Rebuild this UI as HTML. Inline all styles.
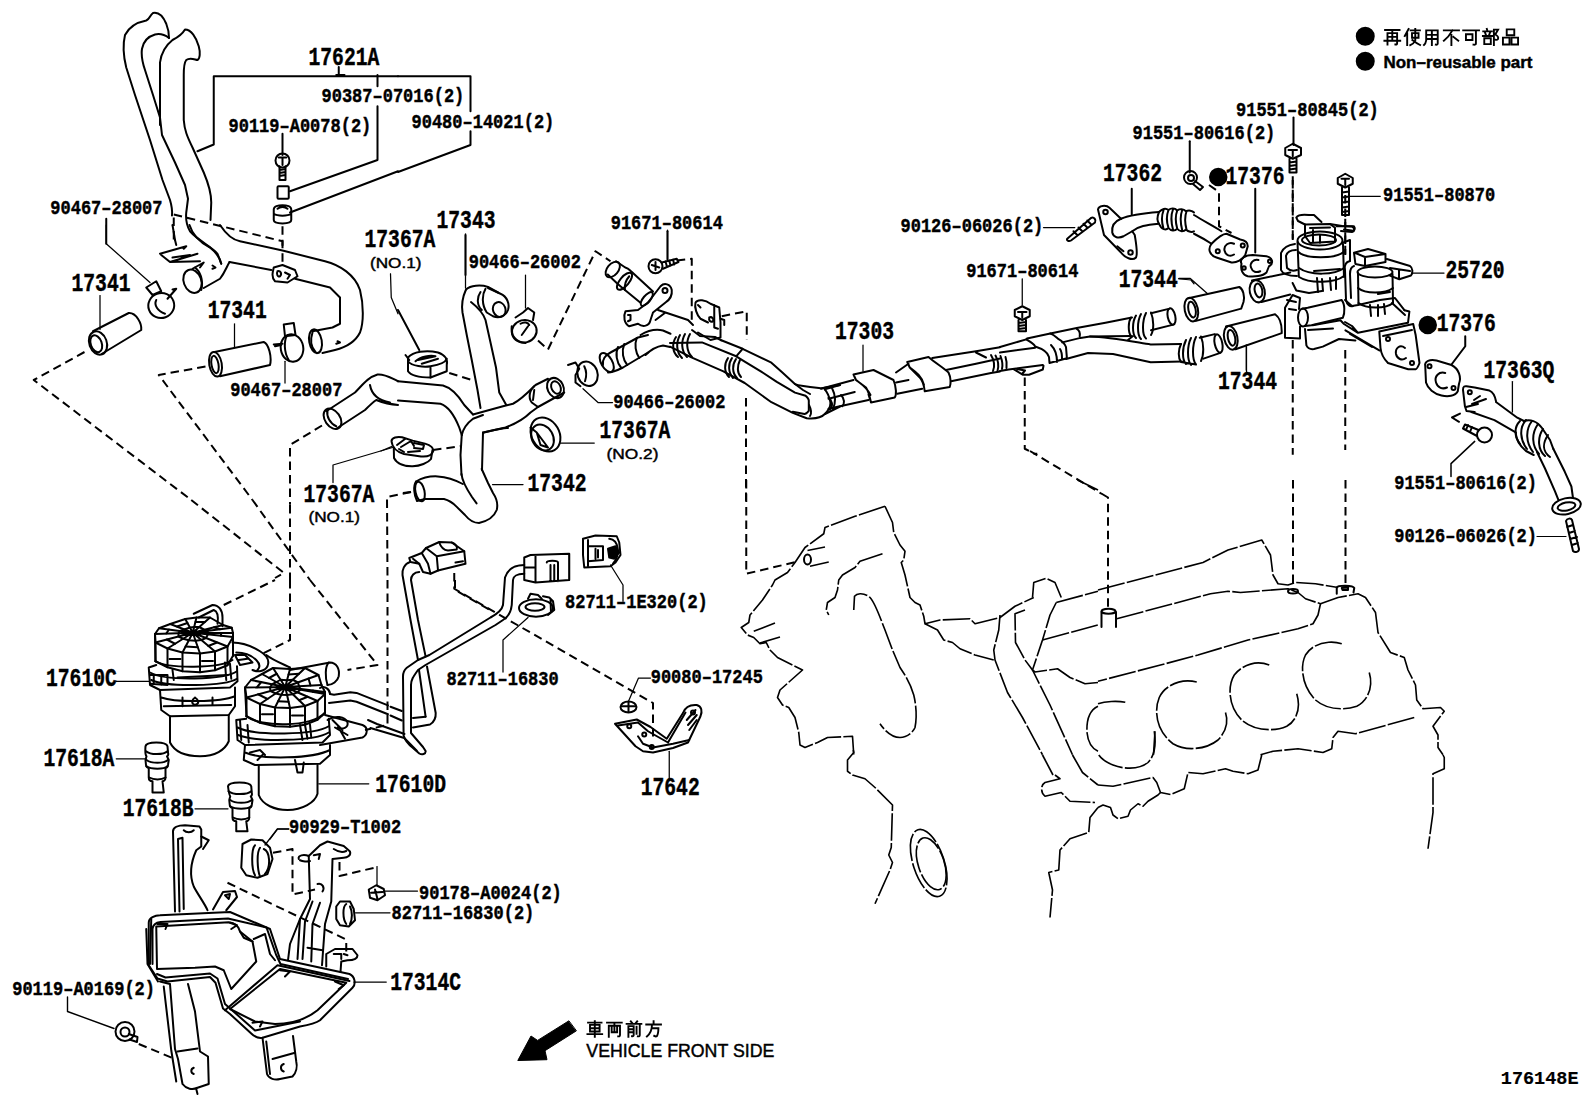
<!DOCTYPE html>
<html><head><meta charset="utf-8"><style>
html,body{margin:0;padding:0;background:#fff;}
svg{display:block;}
.g path,.g circle,.g rect,.g ellipse,.g polyline,.g line{fill:none;stroke:#000;stroke-width:8;stroke-linecap:round;stroke-linejoin:round;}
.g .d{stroke-dasharray:34 20;stroke-linecap:butt;}
.g .t{stroke-width:5;}
.g .e{stroke-width:6.5;stroke-dasharray:110 9;stroke-linecap:butt;}
.g .f{fill:#000;}
.g .g1 path,.g .g1 ellipse,.g .g1 circle,.g .g1 rect{stroke-width:2;}
.g .g1 .d{stroke-dasharray:8.5 5;}
.g .g1 .t{stroke-width:1.25;}
.g .w{fill:#fff;}
text{font-family:"Liberation Mono",monospace;font-weight:bold;fill:#000;stroke:#000;stroke-width:0.45;}
</style></head><body>
<svg width="1592" height="1099" viewBox="0 0 1592 1099">
<rect width="1592" height="1099" fill="#fff"/>
<g class="g">
<g class="g1">
<path d="M721.3,340.3 L742.6,348.8 L771.4,362.7 L782.1,372.3 L794.9,384.1 C800,386 810,387 821.6,388.3 L840,385"/>
<path d="M670,343 L702,342.4 L736.2,356.3 L744.7,361.6 L760.8,371.3 L776.8,381.9 L795,392.6 L805.6,395.8 C808,398 809,400 808.8,401.2 L808.8,410.8 C807,413 806,414 804.5,414 L792.8,411.8"/>
<path d="M670,346.7 L691.4,357.4 L723.4,371.3 L744.7,383 L771.4,402.2 L792.8,412.9 L806.7,418.2 C815,419 822,417 824.8,414 C829,410 831,405 830.2,401.2 C829,396 827,392 824.8,389.4"/>
<path d="M676,337 C672,343 672,352 678,357 M680,335 C676,342 676,352 682,358 M685,334 C681,341 681,351 687,357 M690,334 C686,341 686,351 692,357"/>
<path d="M728,358 C724,364 724,372 729,377 M732,358 C728,364 728,372 733,378 M736,359 C732,365 732,373 737,378 M740,360 C737,366 737,373 741,377"/>
<path d="M736.2,356.3 L742.6,348.8 M795,384 L803,390 L810,394"/>
<path d="M809,405 C811,409 812,413 810,416"/>
<path d="M824.8,389.4 L840,385 M825,414 L840,406.5 M832,388 C835,394 836,402 833,409"/>
<path d="M692,330 L700,336 L715,337 L721.3,340.3"/>
</g>
<g class="g1">
<path d="M391.5,441 C392,437.5 397,436.5 402,437.3 L412.7,440.6 L425,443.6 C430,445 433.5,448 433.3,451 C432,455 427,457 421,456.5 L404,454 C397,452 392,447 391.5,441 Z"/>
<path d="M393.8,448 L394,458 C397,464 405,466.5 412.7,466.3 C420,466 428,463 431,459 L432.5,450"/>
<path d="M397,445 L405,439 M401,447 L411,441 L414,446 M414,443 L424,445 L423,449 L414,448 M408,452 L420,451 M399,449 L404,452"/>
<path d="M381,451 L391.6,446.6" style="stroke-width:1.3"/>
</g>
<g class="g1">
<path class="d" d="M191.25,500 L284,573 L275,578"/>
<path class="d" d="M252.5,500 L310,580"/>
<path class="d" d="M290,505 L290,580"/>
<path class="d" d="M411,492 L387,497 L387.5,580"/>
</g>
<g transform="translate(700,480) scale(0.25)">
<path class="d" d="M185,0 L185,375 L395,325"/>
<ellipse cx="430" cy="318" rx="14" ry="20"/>
<path class="e" d="M430,282 L500,268 M440,345 L515,328"/>
<path class="e" d="M740,105 L620,145 L500,190 L495,215 L420,270 L380,330 L350,370 L300,400 L290,420 L250,480 L200,540 L195,570 L165,590 L190,620 L215,630 L240,655 L265,650 L280,680 L310,710 L410,760 L320,840 L310,870 L330,900 L355,910 L380,950 L395,1010 L400,1060 L420,1070 L470,1050 L510,1030 L610,1025 L615,1099"/>
<path class="e" d="M215,605 L300,572 M240,652 L320,628"/>
<path class="e" d="M730,295 L640,325 L620,350 L570,380 L555,400 L550,440 L540,470 L510,490 L505,520 L515,540"/>
<path class="e" d="M740,105 L770,170 L775,210 L800,260 L820,285 L815,320 L805,330 L820,380 L840,470 L860,490 L880,500 L895,545 L900,575 L960,560 L1080,555 L1100,575 L1200,550 L1260,505 L1335,470"/>
<path class="e" d="M615,520 L618,465 C630,450 660,452 680,470 C700,490 720,550 740,600 L770,680 L800,750 C820,780 840,810 855,860 C865,900 868,950 860,990 C850,1015 820,1030 800,1030 C770,1030 740,1005 720,975"/>
<path class="e" d="M900,575 L950,600 L975,640 L1010,650 L1040,675 L1100,700 L1175,720"/>
<path class="e" d="M1200,540 L1195,600 L1175,680 L1180,720 L1230,850 L1290,950 L1370,1099"/>
<path class="e" d="M1300,520 L1260,535 L1262,650 L1300,720 L1330,760 L1400,900 L1490,1099"/>
<path class="e" d="M1330,470 L1335,410 L1385,393 L1420,410 L1445,470"/>
<path class="e" d="M1425,490 L1592,445"/>
<path class="e" d="M1425,490 L1400,540 L1370,640 L1330,760 L1340,768 L1430,755 L1480,790 L1540,815 L1592,810"/>
<path class="e" d="M1370,640 L1592,580"/>
<path class="e" d="M1592,905 C1560,920 1545,960 1548,1010 C1552,1050 1570,1075 1592,1085"/>
<path class="e" d="M1510,0 L1592,40"/>
</g>
<g transform="translate(1098,480) scale(0.25)">
<path class="d" d="M15,55 L40,70 L40,510"/>
<ellipse cx="42" cy="525" rx="28" ry="10"/>
<path d="M14,528 L14,588 M72,528 L72,588"/>
<path class="d" d="M780,0 L780,425"/>
<ellipse cx="780" cy="445" rx="20" ry="9"/>
<path class="d" d="M990,0 L990,425"/>
<path d="M955,455 L955,430 C960,420 1020,420 1025,432 L1022,450 M975,432 L1000,430 L1000,440 L978,440 Z"/>
<path class="e" d="M0,440 L420,330 L520,280 L655,240 L690,300 L700,380 L720,415 L760,420 L790,410 L870,415 L960,430"/>
<path class="e" d="M75,555 L450,455 L520,445 L570,450 L760,435 L800,450 L830,475 L890,495 L880,540 L860,575 L800,595 L600,640 L400,700 L250,740 L0,805"/>
<path class="e" d="M890,495 L960,470 L1040,455 L1070,470 L1110,530 L1120,610 L1170,690 L1225,710 L1240,760 L1270,820 L1275,880 L1300,915 L1370,910 L1385,925 L1340,985 L1360,1020 L1360,1070 L1380,1099"/>
<path class="e" d="M1265,950 L1030,1015 L960,1005 L940,1030 L935,1075 L900,1090 L800,1075 L700,1085 L650,1099"/>
<path class="e" d="M0,895 C30,885 80,882 112,890"/>
<path class="e" d="M395,808 C340,795 270,815 245,870 C220,930 240,1010 300,1055 C350,1085 430,1080 480,1040 C515,1005 520,960 510,930"/>
<path class="e" d="M685,740 C640,722 580,735 545,780 C515,830 525,910 575,960 C620,1000 700,1010 755,985 C800,960 810,905 795,855"/>
<path class="e" d="M975,655 C930,640 860,650 830,700 C805,750 820,830 870,880 C910,915 980,925 1035,905 C1085,880 1100,820 1085,770"/>
<path class="e" d="M228,1005 L222,1099"/>
</g>
<g transform="translate(700,700) scale(0.25)">
<path class="e" d="M613,200 L615,210 L590,240 L590,285 L610,300 L660,315 L700,350 L770,420 L765,590 L755,620 L770,650 L760,680 L700,815"/>
<ellipse class="e" cx="915" cy="652" rx="62" ry="140" transform="rotate(-18 915 652)"/>
<ellipse class="e" cx="925" cy="655" rx="52" ry="108" transform="rotate(-18 925 655)"/>
<path class="e" d="M1370,220 L1412,300"/>
<path class="e" d="M1490,220 L1530,290 L1592,340"/>
<path class="e" d="M1420,300 L1440,315 L1380,330 C1362,340 1362,370 1380,385 L1445,370 L1480,405 L1580,410"/>
<path class="e" d="M1592,430 L1560,470 L1555,530 L1480,555 L1440,600 L1435,680 L1395,690 L1410,760 L1400,870"/>
</g>
<g transform="translate(1098,700) scale(0.25)">
<path class="e" d="M225,125 C232,170 230,220 200,250 C170,275 110,280 60,260 C30,248 10,232 0,215"/>
<path class="e" d="M655,220 L640,280 L600,295 L540,285 L510,275 L420,295 L360,290 L345,355 L290,378 L250,370 L235,330 L220,310 L60,345 L0,340"/>
<path class="e" d="M1380,220 L1385,230 L1385,275 L1340,295 L1340,450 L1320,595"/>
<path class="e" d="M0,430 L20,420 L50,430 L60,460 L80,475 L120,465 L130,440 L160,415 L180,425 L200,405 L240,380 L250,370"/>
</g>
<g class="g1">
<path d="M461.5,474 C462,480 466,488 472,497 L476.6,503.4"/>
<path d="M481.7,469 L488,483 L493,493 C497,499 498,505 496.7,510 C494,517 488,521 479,523 C474,523 469,520 465,515 L456.5,506.6 C452,502 448,500 444,499 L425,499"/>
<path d="M416,481.5 C422,478 430,476 437.7,476.4 C445,476.8 452,478 462.8,484"/>
<ellipse cx="420" cy="491.5" rx="4.5" ry="10" transform="rotate(-12 420 491.5)"/>
<path d="M416,481.5 C413,486 414,495 417,501 L425,499"/>
<path class="d" d="M403,493 L411,492"/>
</g>
<g class="g1">
<!-- harness 1 -->
<path d="M410,562 C404,564 402,570 402.5,575 L410.5,620 L418,660 M419,670 L425.6,716.7"/>
<path d="M419.25,572 C414,572 411,576 411,580 L418,620 L425.6,656.4 M427,666.5 L435.7,713 C436,718 434,722 430,724.5 L413,727.4"/>
<path d="M413,718 L425.6,716.7"/>
<!-- harness 2 -->
<path d="M524.25,565 C515,565 508,568 505,577.5 L503,605 C502,610 497,614 490.5,617.5 L429.4,655 L418,660 L406.8,667.7 C404,670 403,673 403,676.5 L403.6,735.6 C405,741 409,745 413,748 L419.3,753.5 C422,755 426,754 425.6,751 L423,747 L411,733 L411,685 C411,680 413,677 418,670 L425.5,665 L495.5,625 L503,620 C508,617 511,612 511.75,605 L513,580 C513.5,576 516,574 524.25,573.75"/>
<!-- pump pipes -->
<path d="M330,694 L334,694.7 L350.3,692.2 L356.5,692.9 L388,705.4 M390.5,706.7 L401.8,711"/>
<path d="M329,703 L350.3,700.4 L356.5,701.7 L388,714.2 M390.5,715.5 L401.8,720.5"/>
<path d="M370.4,728 L404.3,738 L416.8,750.7 M368,720 L377,724 L404.5,734"/>
<path d="M320,688 C325,685 330,690 330,694"/>
</g>
<g class="g1">
<!-- arrow -->
<path class="f" style="stroke-width:1" d="M568.6,1021 L537.6,1040.4 L531,1036 L517.8,1060.5 L547,1059.7 L545,1050.7 L576.1,1031 Z"/>
</g>
<g transform="translate(1194,180) scale(0.25)"><circle class="f" cx="935" cy="580" r="33"/></g>
<g class="g1"><path d="M67.5,997 L67.5,1011.5 L114,1028.5" style="stroke-width:1.4"/></g>
<g class="g1">
<!-- A: top of upper tube -->
<path d="M1000,347 L1026.2,339.4 M1050.3,333.4 L1076.7,328.1 L1105.5,322.8 L1132,317.5"/>
<!-- B -->
<path d="M1000,352.5 L1035.2,347.7 M1062.3,342.4 L1080.4,337.9 L1090,336.5 L1131,336"/>
<path d="M1090,336.5 C1110,337 1135,342 1150.7,344.4 L1181,344"/>
<!-- C -->
<path d="M1000,371 L1008.8,369.5 L1042.8,365 M1066,359 L1088,353 L1113,353.9 L1150.7,362.3 L1182,361.5"/>
<!-- clamp -->
<path d="M1027,338.6 L1026.2,339.4 C1031,342 1034,344 1035.2,346.5 C1043,349 1048,353 1049,357 L1049.5,363 M1027,338.6 L1050.3,333.4 C1054,335 1056,337 1057.8,338.6 C1062,341 1065,344 1066,347 L1066.9,358.2 L1049.5,363 M1051,345 C1055,349 1057,353 1057,362 M1060,349 C1062,352 1062,355 1062,358"/>
<path d="M1076.7,328.8 C1079,330 1080.4,332 1079.7,336.4"/>
<!-- small bellows left -->
<path d="M991,355 C994,360 995,366 993,371 M995.5,355.5 C998,360 999,366 997.5,371 M1000.5,356 C1002,360 1003,365 1002,369 M1005.5,357 C1006.5,360 1007,364 1006.5,368"/>
<!-- bracket below -->
<path d="M1014,369.5 L1023,374.8 L1029,374.8 L1042.8,369.5 L1043.5,365.8 M1017,369 L1025,370.5 L1022,374"/>
<!-- upper bellows + stub -->
<path d="M1131,317.5 C1128,322 1128,332 1131,336 M1136,315.5 C1132,322 1132,334 1136,338 M1141,314 C1137,321 1137,335 1141,339 M1146,313 C1142,321 1142,335 1146,338.5 M1151,312.5 C1154,320 1154,330 1151,335"/>
<path d="M1151,313.3 L1169.6,308.6 M1151,330.3 L1173.4,324.6"/>
<ellipse cx="1171.5" cy="316.5" rx="3.8" ry="8.3" transform="rotate(-12 1171.5 316.5)"/>
<path d="M1133,336 L1128,340"/>
<!-- lower bellows + stub -->
<path d="M1181,344 C1178,350 1178,358 1181,362 M1186,340 C1182,348 1182,360 1186,364 M1191,338 C1187,346 1187,360 1191,365 M1196,337 C1192,345 1192,360 1196,364.5 M1201,336.5 C1204,344 1204,355 1201,361 M1181,362 L1196,364.5"/>
<path d="M1199.7,337.8 L1214.8,334.1 M1203.5,358.6 L1220.4,352.9"/>
<ellipse cx="1218.5" cy="343.5" rx="3.8" ry="9.3" transform="rotate(-12 1218.5 343.5)"/>
<!-- hose 17344 upper -->
<ellipse cx="1191.3" cy="309.6" rx="6.6" ry="12" transform="rotate(-12 1191.3 309.6)"/>
<ellipse cx="1192" cy="309.6" rx="3.6" ry="8" transform="rotate(-12 1192 309.6)"/>
<path d="M1188.4,298.3 L1239.3,287 C1243,289 1245,296 1243.5,302 L1241.2,308.6 L1196,320.9"/>
<!-- hose 17344 lower -->
<ellipse cx="1230.8" cy="337.8" rx="6.6" ry="12" transform="rotate(-12 1230.8 337.8)"/>
<ellipse cx="1231.5" cy="337.8" rx="3.6" ry="8" transform="rotate(-12 1231.5 337.8)"/>
<path d="M1226,326.5 L1275.1,314.3 C1279,317 1282,324 1281.7,333.1 L1235.5,349.3"/>
<path d="M1179,278.5 L1190.3,278.5 L1207.3,293.6" style="stroke-width:1.3"/>
<path d="M1246.3,345 L1246.3,370" style="stroke-width:1.3"/>
<path class="d" d="M1030,451 L1102,494"/>
<!-- bolt 91551-80616 upper -->
<circle cx="1190.5" cy="177.5" r="6.5"/>
<circle cx="1191" cy="178" r="3"/>
<path d="M1195,181 L1203,187 L1200,190 L1193,184"/>
</g>
<g class="g1">
<!-- flange -->
<path d="M1463,389.8 C1463,386 1465,386 1466.5,386.2 L1474.7,387.4 L1489.4,390.6 C1493,392 1495,396 1496,401.3 M1463,389.8 L1464.9,406.2 L1466.5,411 L1474.7,412"/>
<circle cx="1469.8" cy="392.3" r="2"/>
<path d="M1474,400 L1480,396 M1472,404 L1486,399 M1466,407 L1478,404"/>
<!-- pipe -->
<path d="M1496,402 L1517.3,417.7 L1523.9,421"/>
<path d="M1471.4,412 L1494.4,420.1 L1515.7,432.4"/>
<!-- bellows -->
<path d="M1523.9,421 C1530,419 1537,421 1542,428 L1550,440 L1553.3,448.8 M1515.7,432.4 C1516,440 1520,446 1526,451 L1533.7,455"/>
<path d="M1520,421 C1514,427 1514,436 1520,444 M1526,420 C1519,428 1520,440 1527,449 M1532,421 C1525,430 1526,443 1533,452 M1538,424 C1531,434 1532,446 1539,454 M1543,429 C1537,438 1538,450 1545,456 M1548,435 C1542,444 1543,452 1550,457"/>
<!-- pipe down -->
<path d="M1537,452 L1545,468.5 L1555,491.4 L1558.3,499.6"/>
<path d="M1553.3,448.8 L1564.8,471.8 L1571.4,486.5 L1573,498"/>
<ellipse cx="1566.5" cy="506.2" rx="14.5" ry="8" transform="rotate(-12 1566.5 506.2)"/>
<ellipse cx="1566.5" cy="506.5" rx="9" ry="4" transform="rotate(-12 1566.5 506.5)"/>
<!-- bolt -->
<circle cx="1484.5" cy="435" r="7.5"/>
<path d="M1478.5,430 L1465,424.5 L1463,428.5 L1477,436 M1468,425 L1466,430 M1472,427 L1470,432"/>
<path d="M1460,413.6 L1452,417.5 L1459,421.8"/>
<!-- stud -->
<path d="M1566,521 C1567,518 1571,518 1572,520 L1579,549 C1579,552 1575,553 1573,551 Z M1567,527 L1573,525 M1569,533 L1575,531 M1570,539 L1577,537 M1572,545 L1578,543"/>
<!-- leaders -->
<path d="M1451,476.5 L1451,463.6 L1474.7,441.4" style="stroke-width:1.5"/>
<path d="M1537,536.5 L1566,536.5" style="stroke-width:1.2"/>
<path d="M1512.4,381.6 L1512.4,412" style="stroke-width:1.3"/>
</g>
<g transform="translate(0,0) scale(0.25)">
<!-- tubes -->
<path d="M688,862 C690,840 686,820 680,800 L650,720 600,560 540,380 505,270 C495,230 488,190 500,140 C515,110 545,90 585,82 C600,76 598,62 612,52 C630,48 650,60 665,95 C673,115 676,135 676,152"/>
<path d="M676,152 C660,140 640,133 620,138 C595,145 575,160 568,195 C564,220 570,250 580,280 L612,380 L640,470 L648,540 L700,650 L740,740 L752,795 L745,850 C742,880 748,905 760,925 C790,960 850,990 870,1015 L885,1055"/>
<path d="M640,500 L640,250 C645,210 665,180 690,160 C710,150 730,135 740,118 C765,118 785,150 795,185 C802,210 800,235 790,240 C778,238 760,228 745,240 C737,250 735,270 735,300 L735,480 C738,520 748,545 770,590 L815,690 C832,730 845,770 845,810 L842,880"/>
<!-- 17621A bracket -->
<path d="M790,605 L855,578 L855,305 L1592,305"/>
<path d="M1355,268 L1355,300 M1345,300 L1378,300"/>
<path d="M1510,300 L1510,345 M1510,425 L1510,640 L1160,765"/>
<path d="M1592,685 L1160,850"/>
<path d="M1130,535 L1130,620"/>
<!-- bolt -->
<circle cx="1130" cy="642" r="28"/>
<path d="M1115,630 L1145,630 M1130,630 L1130,660 M1118,665 L1118,720 L1142,720 L1142,665 M1118,680 L1142,676 M1118,692 L1142,688 M1118,704 L1142,700"/>
<rect x="1110" y="745" width="45" height="50" rx="4"/>
<path d="M1095,838 C1095,815 1165,815 1165,838 L1165,880 C1165,898 1095,898 1095,880 Z M1095,855 C1110,865 1150,865 1165,855 M1110,835 C1120,825 1140,825 1150,835"/>
<path class="d" d="M1130,905 L1130,1052"/>
<path class="d" d="M695,858 L1130,965 L1130,1000"/>
<path class="d" d="M695,870 L695,975"/>
<path d="M425,875 L425,975"/>
</g>
<g transform="translate(398,0) scale(0.25)">
<path d="M0,305 L290,305 L290,445 M290,525 L290,580 L0,688"/>
<path d="M270,940 L270,1100"/>
<path d="M1078,925 L1078,1040"/>
</g>
<g transform="translate(796,0) scale(0.25)">
<path class="t" d="M990,910 L1115,910"/>
<path d="M1085,955 L1180,872 C1192,866 1202,880 1196,890 L1100,962 C1090,968 1080,960 1085,955 Z M1110,925 L1125,940 M1130,910 L1145,925 M1150,895 L1165,910 M1165,882 L1180,897"/>
<path d="M1343,755 L1343,858"/>
<path d="M1208,838 C1210,822 1240,818 1255,832 L1300,875 M1208,838 L1232,940 L1300,1010 C1315,1030 1345,1045 1360,1030 C1368,1015 1362,985 1355,940 L1345,925"/>
<path d="M1300,875 C1275,885 1262,905 1265,930 C1270,950 1290,955 1310,945 L1345,925 C1370,905 1400,900 1452,895"/>
<path d="M1300,875 C1340,858 1400,852 1452,848"/>
<circle cx="1238" cy="848" r="9"/><circle cx="1338" cy="1010" r="9"/>
<path d="M1285,985 L1310,1005"/>
<path d="M1452,848 C1465,835 1480,832 1490,840 C1500,832 1515,832 1525,842 C1535,835 1550,835 1560,845 C1570,840 1585,842 1592,850 M1452,895 C1462,920 1480,922 1490,912 C1500,925 1515,925 1525,915 C1535,928 1550,928 1560,918 C1570,928 1585,930 1592,925 M1452,848 C1445,865 1445,885 1452,895 M1470,842 C1462,862 1462,888 1470,915 M1490,840 C1482,860 1482,888 1490,912 M1508,838 C1500,858 1500,888 1508,918 M1525,842 C1518,860 1518,890 1525,915 M1545,840 C1537,860 1537,890 1545,922 M1562,845 C1555,865 1555,890 1562,918"/>
<path d="M1575,565 L1575,690"/>

</g>
<g transform="translate(1194,0) scale(0.25)">
<circle class="f" cx="685" cy="145" r="34"/>
<circle class="f" cx="685" cy="245" r="34"/>
<circle class="f" cx="97" cy="708" r="33"/>
<path d="M398,470 L398,580"/>
<path d="M365,592 L395,575 L428,592 L428,620 L395,635 L365,620 Z M378,600 L412,600 M395,600 L395,625 M382,635 L382,690 L410,690 L410,635 M382,650 L410,646 M382,664 L410,660 M382,678 L410,674"/>
<path class="d" d="M395,705 L395,960"/>
<path d="M245,755 L245,1010"/>
<path d="M575,712 L605,695 L635,712 L635,735 L605,750 L575,735 Z M590,715 L620,715 M605,715 L605,740 M592,750 L592,860 L620,860 L620,750 M592,770 L620,766 M592,790 L620,786 M592,810 L620,806 M592,830 L620,826 M592,848 L620,844"/>
<path class="t" d="M620,785 L745,785"/>
<path class="d" d="M605,875 L605,1020"/>
<path d="M570,905 L640,905 C648,915 640,925 630,922 L600,918"/>
<path class="d" d="M60,740 L100,768 L100,905 L150,932"/>
</g>
<g transform="translate(0,230) scale(0.25)">
<path class="t" d="M425,-20 L425,55 L600,210"/>
<!-- small bracket near tubes -->
<path d="M640,95 L745,65 M645,100 L680,128 L790,95 M680,128 L800,125 M690,110 L760,100 M745,65 L735,75"/>
<path d="M690,-20 L700,40"/>
<path d="M700,40 L705,60"/>
<!-- tube end hose near 17621A bottom -->
<path d="M758,-20 C770,20 800,50 840,70 C865,90 880,110 885,135"/>
<path d="M880,-20 C900,10 930,40 960,45 L1130,82 L1300,125 C1360,140 1420,180 1440,240 C1455,300 1455,370 1440,410 C1420,450 1380,470 1340,480 L1290,492"/>
<path d="M918,128 L1085,160 M1180,195 L1320,230 L1360,270 L1360,375 L1330,390 L1250,405"/>
<path d="M1350,445 L1360,450 L1345,455"/>
<!-- 17621A clamp on hose -->
<path d="M1095,150 C1090,170 1085,190 1100,205 L1150,210 L1190,185 L1180,160 L1130,140 Z M1110,165 C1120,160 1130,175 1120,185 C1110,190 1105,175 1110,165 M1140,170 L1160,180 L1150,195"/>
<!-- hose end near top-left junction -->
<path d="M918,128 C905,150 900,170 880,195 L815,232"/>
<ellipse cx="770" cy="205" rx="35" ry="48" transform="rotate(-20 770 205)"/>
<path d="M780,150 C800,165 815,200 805,240"/>
<path d="M770,155 L815,130 L800,150"/>
<path d="M850,142 L862,150 L850,155"/>
<!-- clamp 90467 1 -->
<ellipse cx="645" cy="302" rx="52" ry="50" transform="rotate(-20 645 302)"/>
<path d="M625,280 C615,300 630,325 660,335"/>
<path d="M585,230 L625,205 L645,245 L610,260 Z M670,275 L705,235 L690,238"/>
<!-- 17341 hose 1 -->
<ellipse cx="392" cy="452" rx="35" ry="48" transform="rotate(-20 392 452)"/>
<ellipse cx="385" cy="455" rx="22" ry="35" transform="rotate(-20 385 455)"/>
<path d="M372,405 L515,332 C545,330 568,375 565,400 L408,495"/>
<path class="t" d="M400,262 L400,398"/>
<path class="d" d="M338,488 L135,600 L765,1080"/>
<!-- 17341 hose 2 -->
<ellipse cx="862" cy="537" rx="25" ry="50" transform="rotate(-10 862 537)"/>
<ellipse cx="860" cy="538" rx="14" ry="35" transform="rotate(-10 860 538)"/>
<path d="M858,488 L1055,448 C1075,455 1088,510 1080,540 L880,585"/>
<path class="t" d="M938,375 L938,470"/>
<path class="d" d="M822,546 L635,580 L1010,1080"/>
<!-- clamp 90467 2 -->
<ellipse cx="1168" cy="472" rx="45" ry="55" transform="rotate(-10 1168 472)"/>
<path d="M1150,420 C1135,440 1135,490 1155,520"/>
<path d="M1135,378 L1175,372 L1182,420 L1140,425 Z M1095,458 L1130,455 M1100,465 L1125,460"/>
<path class="t" d="M1140,525 L1140,612"/>
<!-- hose end 17621A lower -->
<ellipse cx="1262" cy="445" rx="25" ry="48" transform="rotate(-10 1262 445)"/>
<path d="M1250,410 C1240,440 1245,470 1262,488"/>
<!-- 17342 lower hose end -->
<ellipse cx="1330" cy="755" rx="30" ry="45" transform="rotate(-35 1330 755)"/>
<path d="M1310,722 C1305,745 1320,775 1345,785"/>
<path d="M1305,725 L1420,650 C1450,620 1470,590 1510,578 C1540,575 1560,590 1592,605"/>
<path d="M1345,795 L1460,720 C1480,700 1490,690 1505,680 C1530,690 1560,698 1592,700"/>
<path d="M1480,620 C1485,650 1505,680 1560,690"/>
<path class="d" d="M1288,782 L1160,860 L1160,1099"/>
<path class="t" d="M1332,1010 L1332,940 L1570,870"/>
<path class="t" d="M1562,175 L1565,270 L1592,335"/>
</g>
<g transform="translate(398,230) scale(0.25)">
<path class="t" d="M270,15 L270,232"/>
<path class="t" d="M510,180 L510,312"/>
<path class="t" d="M740,635 L800,690 L858,690"/>
<path class="t" d="M650,852 L785,852"/>
<path class="t" d="M378,1018 L500,1018"/>
<!-- hose 17343 -->
<path d="M272,238 C262,260 252,290 258,330 L275,420 L295,520 L318,640 L330,712"/>
<path d="M272,238 C290,222 330,218 360,228 L400,250"/>
<path d="M292,288 C320,310 340,330 350,360 L370,450 L392,550 L405,650 L432,698"/>
<path d="M330,248 C315,270 315,300 335,320 M350,235 C335,260 335,300 355,330 L380,345 C405,355 430,345 440,320 C448,295 435,265 410,255 L360,232"/>
<ellipse cx="405" cy="318" rx="25" ry="30" transform="rotate(-20 405 318)"/>
<!-- clamp 1 -->
<ellipse cx="505" cy="405" rx="50" ry="45" transform="rotate(-15 505 405)"/>
<path d="M470,350 L500,330 L520,312 L545,330 L540,360 M490,375 C505,365 520,370 525,380 M495,420 L520,385"/>
<path d="M455,385 C450,420 470,450 510,452"/>
<path class="d" d="M560,442 L600,478 L790,85 L850,125"/>
<!-- pipe left end -->
<ellipse cx="859" cy="158" rx="22" ry="36" transform="rotate(40 859 158)"/>
<path d="M872,125 L909,150 C918,152 925,158 930,163 L1020,246"/>
<path d="M839,178 L879,216 L909,241 L970,291"/>
<ellipse cx="906" cy="205" rx="18" ry="42" transform="rotate(40 906 205)"/>
<path d="M925,185 C912,200 905,222 908,240"/>
<ellipse cx="995" cy="276" rx="14" ry="34" transform="rotate(40 995 276)"/>
<!-- flange bracket -->
<path d="M1000,290 L1050,225 C1065,210 1090,215 1095,240 C1098,265 1085,280 1070,290 L1020,330 L1010,360 C1005,385 980,390 960,375 L925,385 C905,375 900,345 910,325 L960,320 L1000,290"/>
<circle cx="1068" cy="242" r="10"/>
<path d="M920,340 L930,340 L930,360 L920,365"/>
<path d="M1040,320 L1160,360 L1180,380 M1030,360 L1070,330"/>
<!-- pipe right -->
<path d="M970,420 C995,405 1030,395 1060,402 L1090,415"/>
<path d="M990,500 C1010,480 1040,465 1060,462 L1088,468"/>
<!-- bracket right with holes -->
<path d="M1190,290 C1200,275 1230,280 1250,295 L1285,310 L1290,370 L1290,430 L1250,440 L1200,410 M1190,290 C1185,310 1195,340 1210,355 L1240,370 M1265,300 L1265,390 L1280,395"/>
<path d="M1200,300 L1210,310 M1245,350 C1255,345 1265,355 1260,365 C1250,370 1242,362 1245,350 M1290,355 L1305,360 L1305,380"/>
<!-- hose stub -->
<path d="M820,540 C815,520 830,500 850,490 L960,430 L1000,420 M840,570 C860,570 880,560 900,550 L1000,490"/>
<ellipse cx="835" cy="530" rx="22" ry="42" transform="rotate(-30 835 530)"/>
<path d="M880,468 C868,495 875,530 892,550 M905,456 C893,485 900,520 917,540 M955,432 C945,458 950,490 965,512"/>
<!-- clamp 2 -->
<ellipse cx="758" cy="575" rx="40" ry="50" transform="rotate(-20 758 575)"/>
<path d="M680,540 L710,530 L725,555 L710,580 L710,610 L730,625 M745,545 C755,565 755,585 748,605"/>
<!-- hose end near junction -->
<ellipse cx="630" cy="632" rx="32" ry="42" transform="rotate(-25 630 632)"/>
<ellipse cx="632" cy="630" rx="18" ry="26" transform="rotate(-25 632 630)"/>
<path d="M600,595 L550,620 C525,640 520,670 535,690 L560,708 L665,650 M545,640 L540,680"/>
<!-- lower junction hose -->
<path d="M0,605 L180,622 C210,630 240,660 265,700 L300,738"/>
<path d="M0,682 L170,695 C200,705 225,740 245,790 L255,820"/>
<path d="M300,738 L420,705 L460,695 C490,680 520,650 545,625"/>
<path d="M255,820 C262,790 280,770 300,755 L340,740 M340,810 L430,790 C470,775 500,760 530,730 L560,708"/>
<path d="M345,810 C385,800 420,790 440,792"/>
<path d="M255,820 L250,900 L254,980"/>
<path d="M340,810 L336,960"/>
<!-- clip 17367A NO.1 upper -->
<path d="M40,510 C60,488 110,478 160,490 C190,500 200,520 195,540 L195,565 L130,590 C80,590 50,580 40,565 Z"/>
<path d="M40,525 C55,545 105,550 130,545 C160,540 190,530 195,515 M130,545 L130,590"/>
<path d="M80,520 L150,505 M95,535 L160,515 M70,525 C90,505 130,500 150,505"/>
<path d="M30,500 L45,520"/>
<path d="M85,480 L0,320"/>
<path class="d" d="M205,572 L295,600"/>
<!-- clip 17367A NO.2 -->
<ellipse cx="590" cy="818" rx="55" ry="72" transform="rotate(-30 590 818)"/>
<ellipse cx="578" cy="830" rx="42" ry="55" transform="rotate(-30 578 830)"/>
<path d="M555,810 L600,870 L570,860 Z M530,790 L555,810"/>
<path class="d" d="M140,880 L250,865"/>
<!-- bolt 91671 upper -->
<circle cx="1030" cy="145" r="28"/>
<path d="M1015,140 L1045,150 M1030,128 L1030,160 M1055,130 L1115,115 L1122,128 L1060,155 M1070,125 L1076,148 M1085,122 L1090,143 M1100,118 L1105,138"/>
<path class="t" d="M1078,0 L1078,115"/>
<path class="d" d="M1115,122 L1175,115 L1175,360"/>
<path class="d" d="M1295,345 L1395,325 L1395,440"/>
<path class="d" d="M1392,672 L1392,1099"/>
</g>
<g transform="translate(796,180) scale(0.25)">
<path class="t" d="M268,660 L268,765"/>
<path class="t" d="M905,395 L905,500"/>
<path d="M875,520 L905,505 L935,520 L935,545 L905,560 L875,545 Z M888,528 L922,528 M905,528 L905,550 M890,560 L890,605 L920,605 L920,560 M890,572 L920,568 M890,584 L920,580 M890,596 L920,592"/>
<path class="t" d="M1530,395 L1580,400 L1592,415"/>
<path class="d" d="M915,790 L915,1075 L935,1085 M950,1095 L965,1095"/>
<!-- upper tube -->
<path d="M100,835 L230,800 M400,770 L450,735 M545,712 L720,685 L816,669"/>
<path d="M130,875 L235,848 M400,810 L450,800 M600,760 L720,735 L816,714"/>
<path d="M130,915 L290,880 M405,855 L505,835 M620,805 L780,772 L816,766"/>
<path d="M130,870 C145,880 150,905 135,918 M180,860 C195,875 195,895 185,905 M720,690 L760,710"/>
<!-- clamps -->
<path d="M230,778 L310,760 C330,770 370,790 390,800 C402,830 402,860 395,870 L300,890 C295,865 290,845 280,830 L240,800 Z M240,800 C260,815 285,830 298,860 M300,890 L290,858"/>
<path d="M445,728 L530,708 C555,730 595,755 610,770 C620,790 620,815 615,828 L515,845 C512,820 505,800 495,790 L455,750 Z M455,750 C475,765 505,785 512,820"/>
</g>
<g transform="translate(1194,180) scale(0.25)">
<!-- dashed verticals -->
<path class="d" d="M395,0 L395,240"/>
<path class="d" d="M395,640 L395,1099"/>
<path class="d" d="M605,60 L605,300"/>
<path class="d" d="M605,680 L605,1080"/>
<!-- gasket flange from 17362 pipe -->
<path d="M0,140 C40,165 80,185 110,205"/>
<path d="M0,215 C30,230 55,245 70,255"/>
<path d="M70,255 C55,275 60,300 90,310 L150,330 C170,332 195,318 205,300 L215,265 C215,248 200,240 185,238 L130,215 C110,215 85,240 70,255 Z"/>
<path d="M160,255 C140,245 118,262 122,282 C126,302 145,308 160,298"/>
<circle cx="95" cy="285" r="8"/><circle cx="195" cy="262" r="8"/>
<!-- gasket 17376 upper -->
<path d="M190,335 C180,315 205,300 235,300 L290,305 C315,310 320,335 300,345 L290,370 C275,385 240,388 215,385 C195,380 185,360 190,335 Z"/>
<path d="M258,320 C238,315 222,332 228,350 C234,368 250,372 265,365"/>
<circle cx="303" cy="325" r="7"/><circle cx="200" cy="352" r="7"/>
<!-- short pipe stub upper (to valve) -->
<ellipse cx="253" cy="445" rx="30" ry="45" transform="rotate(-12 253 445)"/>
<ellipse cx="258" cy="442" rx="15" ry="28" transform="rotate(-12 258 442)"/>
<path d="M232,402 L385,370 M270,488 L385,458"/>
<!-- 17376 gasket lower -->
<path d="M925,745 C920,725 945,715 970,722 L1030,740 C1060,755 1070,790 1060,815 L1055,845 C1045,865 1015,868 990,862 C960,855 935,835 928,810 Z"/>
<path d="M1005,772 C980,765 960,785 968,810 C975,832 995,838 1012,830"/>
<circle cx="942" cy="745" r="8"/><circle cx="1038" cy="832" r="8"/>
<path d="M1085,625 L1085,665 L1030,738"/>
<!-- leaders -->
<path class="t" d="M870,372 L1000,372"/>
<path class="t" d="M210,668 L210,770"/>
</g>
<g transform="translate(100,580) scale(0.25)">
<!-- dashed -->
<path class="d" d="M495,100 L700,0"/>
<path class="d" d="M760,0 L760,240 L640,300"/>
<path class="d" d="M840,0 L1110,340 L990,360"/>
<path class="d" d="M1150,0 L1150,580 L1060,600"/>
<path class="d" d="M1420,0 L1420,40 L1560,120"/>
<!-- PUMP 1 -->
<path d="M375,135 L450,100 C475,100 490,120 490,150 L490,185"/>
<path d="M395,150 L455,120 C470,125 475,140 470,175"/>
<path d="M220,216 L236,193 L281,176 L341,156 L386,150 L440,150 L492,180 L527,191 L532,212 L532,228 L510,266 L460,286 L400,294 L330,290 L270,274 L222,250 Z"/>
<path d="M314,213 L320,204 L337,198 L360,190 L377,188 L397,188 L417,199 L430,203 L432,211 L432,217 L424,232 L405,240 L382,243 L355,241 L333,235 L314,226 Z"/>
<path d="M371,211 L220,216 M371,211 L236,193 M371,211 L281,176 M371,211 L341,156 M371,211 L386,150 M371,211 L440,150 M371,211 L492,180 M371,211 L527,191 M371,211 L532,212 M371,211 L532,228 M371,211 L510,266 M371,211 L460,286 M371,211 L400,294 M371,211 L330,290 M371,211 L270,274 M371,211 L222,250"/>
<path d="M265,214 L276,198 M308,186 L350,172 M382,168 L419,168 M456,189 L480,197 M484,212 L484,223 M468,250 L433,264 M391,269 L342,266 M300,255 L267,238"/>
<path d="M222,250 L222,325 M270,274 L270,349 M330,290 L330,365 M400,294 L400,369 M460,286 L460,361 M510,266 L510,341 M532,228 L532,303"/>
<path d="M222,325 L270,349 L330,365 L400,369 L460,361 L510,341 L532,303"/>
<path d="M278,316 L322,316 M408,324 L452,324"/>
<path d="M220,216 L222,325 M532,212 L532,303"/>
<path d="M222,325 C270,355 480,355 530,320"/>
<path d="M195,350 L200,420 L240,440 L520,430 L550,405 L548,345 M195,350 L225,340"/>
<path d="M200,370 C260,405 500,400 548,365 M205,400 C270,430 500,425 548,395"/>
<path d="M200,380 L270,380 L270,420 L200,415 M215,385 L215,415 M245,385 L245,420 M290,360 L295,400 M500,330 L505,400 M520,335 L525,395 M310,390 L510,380"/>
<path d="M240,440 L245,520 L280,545 L515,540 L540,505 L540,430 M245,470 C300,490 480,490 540,465 M255,505 L525,500"/>
<path d="M330,470 L330,505 M380,470 C395,480 400,495 380,500 C365,495 365,480 380,470 M450,470 L450,500"/>
<path d="M280,545 L280,650 C300,690 350,705 400,705 C460,705 500,680 515,645 L515,540"/>
<!-- connection hose -->
<path d="M530,250 C560,250 600,260 640,285 C665,300 680,320 670,345 C660,365 630,370 610,360 M545,290 C575,290 605,300 625,320 C640,335 640,350 630,360"/>
<path d="M540,300 L580,300 L610,330 L560,340 Z M555,320 L590,315"/>
<path d="M665,300 C690,320 740,340 760,350"/>
<!-- PUMP 2 -->
<path d="M760,360 L840,345 L920,330 C945,330 960,355 955,385 C950,405 930,420 910,420"/>
<path d="M915,330 C900,345 900,390 910,420"/>
<path d="M580,430 L604,400 L648,376 L692,352 L760,356 L820,352 L874,380 L886,420 L900,448 L900,456 L870,484 L820,504 L760,512 L700,510 L640,496 L586,470 Z"/>
<path d="M680,429 L689,417 L706,408 L722,399 L748,401 L771,399 L792,410 L796,425 L801,436 L801,439 L790,449 L771,457 L748,460 L725,459 L703,454 L682,444 Z"/>
<path d="M741,428 L580,430 M741,428 L604,400 M741,428 L648,376 M741,428 L692,352 M741,428 L760,356 M741,428 L820,352 M741,428 L874,380 M741,428 L886,420 M741,428 L900,448 M741,428 L900,456 M741,428 L870,484 M741,428 L820,504 M741,428 L760,512 M741,428 L700,510 M741,428 L640,496 M741,428 L586,470"/>
<path d="M628,429 L645,408 M676,392 L707,375 M754,378 L796,375 M834,394 L842,422 M852,442 L852,448 M831,467 L796,481 M754,487 L712,485 M670,476 L632,457"/>
<path d="M586,470 L586,545 M640,496 L640,571 M700,510 L700,585 M760,512 L760,587 M820,504 L820,579 M870,484 L870,559 M900,456 L900,531"/>
<path d="M586,545 L640,571 L700,585 L760,587 L820,579 L870,559 L900,531"/>
<path d="M648,537 L692,537 M768,542 L812,542"/>
<path d="M580,430 L586,545 M900,448 L900,531"/>
<path d="M586,545 C640,590 850,590 900,531"/>
<path d="M545,560 L550,640 L580,660 L890,650 L920,620 L915,555 M545,560 L585,555"/>
<path d="M550,590 C620,625 860,620 915,585 M552,620 C630,650 860,645 915,610"/>
<path d="M560,560 L565,640 M590,580 L595,650 M800,580 L810,640 M820,580 L830,635 M840,578 L845,630"/>
<path d="M580,660 L575,720 L620,740 L880,735 L920,700 L920,660 M580,690 C650,720 850,715 920,680"/>
<path d="M600,690 L640,680 L660,700 M630,720 L650,700 M780,720 L790,770 L810,770 L815,730"/>
<path d="M635,740 L635,860 C650,900 700,920 750,920 C810,920 860,890 870,855 L870,740"/>
<!-- right flange plate of pump2 -->
<path d="M900,540 L1050,580 C1075,590 1070,620 1050,630 L880,660"/>
<path d="M910,560 C940,540 980,545 990,570 C995,590 970,600 950,590 M930,560 L970,600"/>
<path d="M940,590 L990,620 M960,600 L980,635"/>
<!-- 17618A -->
<path d="M182,665 C185,645 265,645 270,665 L272,690 C275,700 270,705 268,705 L275,720 L272,740 C270,750 265,752 262,752 L262,790 C262,800 255,805 250,805 L255,850 L210,850 L210,805 C200,805 195,800 195,790 L195,752 C188,752 184,745 184,740 L182,720 L186,705 C182,700 180,690 182,665 Z"/>
<path d="M184,685 C200,700 255,700 270,685 M186,720 C205,735 255,735 272,720 M186,745 C205,758 255,758 270,745 M197,790 C215,800 245,800 262,790"/>
<!-- 17618B -->
<path d="M512,825 C515,805 600,805 605,825 L607,850 C610,860 605,865 603,865 L610,880 L607,900 C605,910 600,912 597,912 L597,950 C597,960 590,965 585,965 L590,1005 L545,1005 L545,965 C535,965 530,960 530,950 L530,912 C523,912 519,905 519,900 L517,880 L521,865 C517,860 515,850 512,825 Z"/>
<path d="M514,845 C530,860 590,860 605,845 M521,880 C540,895 590,895 607,880 M521,905 C540,918 590,918 605,905 M532,950 C550,960 580,960 597,950"/>
<!-- leaders -->
<path class="t" d="M65,405 L195,405"/>
<path class="t" d="M65,715 L182,715"/>
<path class="t" d="M380,915 L512,915"/>
<path class="t" d="M875,815 L1075,815"/>
<path class="t" d="M660,1060 L710,995 L755,995"/>
</g>
<g transform="translate(398,505) scale(0.25)">
<!-- connector 1 -->
<path d="M45,212 L95,192 L112,172 L165,148 L215,150 L265,185 L270,235 L160,262 L130,275 L100,268 L85,235 L50,228 Z"/>
<path d="M112,172 L155,205 L160,262 M155,205 L265,185 M165,150 C170,165 180,180 200,182 L235,178 C240,165 225,152 215,150"/>
<path d="M95,192 L120,235 L130,275 M60,215 L85,235 M230,230 L260,225"/>
<path class="d" d="M225,272 L225,335 L1020,792 L1020,940"/>
<!-- connector 2 -->
<path d="M505,210 L530,200 L685,195 L685,300 L550,310 L505,300 Z M550,205 L550,310 M505,250 L550,250 M595,230 C595,220 640,220 640,230 L640,305 M610,240 L610,305 M625,240 L625,305"/>
<path d="M685,195 L685,300" class="t"/>
<!-- clip 82711-1E320 -->
<path d="M740,135 L790,122 L875,125 L885,150 L890,200 L870,230 L850,245 L745,250 L740,200 Z"/>
<path d="M760,140 L760,245 M760,165 L820,165 L820,220 L760,225 M790,175 L790,215 M800,180 L800,210"/>
<path class="f" d="M840,175 L870,165 L885,190 L865,215 L845,210 Z"/>
<path d="M845,135 C885,140 890,200 860,235"/>
<path class="t" d="M850,240 L900,320 L900,385"/>
<!-- grommet 82711-16830 -->
<ellipse cx="552" cy="412" rx="68" ry="35"/>
<ellipse cx="548" cy="408" rx="38" ry="15"/>
<path d="M520,375 L530,355 L560,360 L575,375 M580,365 L605,370 L620,385 L625,420 L600,440 M610,380 L612,430"/>
<path class="t" d="M520,450 L420,540 L420,668"/>
<!-- nut 90080 -->
<ellipse cx="922" cy="808" rx="32" ry="22"/>
<path d="M922,788 L922,828 M895,805 L950,805"/>
<path class="t" d="M922,785 L962,692 L1010,692"/>
<!-- bracket 17642 -->
<path d="M868,875 L955,858 L1010,888 L1075,935 L1140,832 C1150,805 1170,798 1195,800 C1215,805 1218,825 1210,845 L1160,950 L1100,972 L1020,990 L980,985 L950,965 Z"/>
<path d="M880,882 L960,870 L1000,905 L1080,950 L1150,830 M960,925 L980,955 L1020,970 L1100,955 L1165,940"/>
<path d="M1155,860 L1190,820 M1160,880 L1195,840 M1165,900 L1195,860"/>
<circle cx="925" cy="885" r="8"/><circle cx="985" cy="918" r="8"/><circle cx="1015" cy="968" r="8"/><circle cx="1180" cy="830" r="8"/>
<path class="t" d="M1085,985 L1085,1099"/>
</g>
<g transform="translate(100,824) scale(0.25)">
<!-- upper left vertical arm -->
<path d="M292,30 C292,15 310,5 340,5 L398,10 L405,22 L405,90 L385,105 C365,150 355,200 375,250 C390,280 420,320 430,345"/>
<path d="M292,30 L300,350 M312,60 L318,350 M312,60 L330,55 L335,340"/>
<path d="M405,50 L435,65 L412,100 M335,25 C345,35 365,35 375,25"/>
<!-- frame outer -->
<path d="M195,395 C195,375 220,365 240,365 L520,352 L680,420 L720,540 L998,600 C1020,610 1025,640 1010,655 L880,785 C860,800 830,805 800,810 L650,855 C630,858 615,848 605,838 L520,760 L492,738 L462,635 L440,612 L270,630 L230,618 L195,565 Z"/>
<path d="M185,420 L190,560 L232,630 M205,380 L200,560"/>
<path d="M210,560 L210,420 C212,402 225,394 242,392 L512,378 L666,414 L704,522 L722,560 L992,620"/>
<path d="M228,600 L262,614 L440,598 L470,618 L500,720 L620,826 L800,790"/>
<!-- inner left opening -->
<path d="M225,410 L515,393 C540,395 555,410 560,430 L575,455 L610,470 L625,550 L525,660 L495,585 L460,570 L380,575 L228,580 Z"/>
<path d="M560,430 L610,470 M615,460 L660,440 L680,520 L700,545"/>
<path d="M230,400 L270,400 L262,420 M520,395 L548,405 L525,420"/>
<!-- inner right opening -->
<path d="M520,740 L720,580 L985,635 L870,745 C820,785 760,800 700,800 L620,790 Z"/>
<path d="M720,585 L760,590 L740,610 M940,630 L975,645 L955,660 M610,795 L650,790 L640,810"/>
<path d="M500,745 L710,565 L998,628"/>
<!-- legs -->
<path d="M240,630 L280,640 L300,900 L312,940 L330,1040 C345,1060 370,1065 390,1055 L435,1040 L432,930 L400,910 L380,750 L352,640"/>
<path d="M255,650 L285,905 L305,1030"/>
<path d="M310,910 L390,898 M375,975 C362,980 362,995 375,1000 M385,1060 L390,1080"/>
<path d="M650,855 L668,1000 C675,1020 700,1025 720,1020 L770,1010 C785,995 790,970 785,950 L772,848"/>
<path d="M665,870 L680,1000 M690,940 L780,915 M735,960 C720,965 720,985 735,990"/>
<!-- small tab -->
<path d="M452,342 L492,272 L540,268 L548,292 L505,345"/>
<path d="M500,285 L520,280 L515,300 Z"/>
<!-- vertical right bracket -->
<path d="M795,140 C790,125 815,120 835,128 L880,85 L910,70 L975,88 L1000,110 C1005,125 990,135 975,135 L930,140 L925,310 L900,400 L888,565"/>
<path d="M835,128 L840,300 L800,380 L760,480 L752,545"/>
<path d="M800,380 L790,540 M850,310 L820,390 L810,540 M880,315 L850,400 L845,550 M830,495 L890,505"/>
<path d="M855,125 L880,120 L875,140 M935,100 C950,110 970,115 985,108 M800,145 C810,150 830,152 840,148"/>
<path d="M870,240 C890,235 900,255 890,270"/>
<path d="M905,570 L905,520 L940,500 L1010,500 L1030,525 C1030,540 1010,545 990,545 L965,550 L962,592"/>
<path d="M935,520 L965,520 L965,540 M975,520 L990,525"/>
<!-- clip 90929 -->
<path d="M570,80 L605,62 L650,65 L680,95 L690,140 L670,200 L630,215 L585,205 L565,175 Z"/>
<path d="M620,85 C605,100 605,180 620,205 M640,95 C625,115 630,185 640,210 M655,100 C680,110 685,170 660,200"/>
<!-- clip 82711-16830 lower -->
<path d="M945,330 L960,310 L1000,310 L1015,340 L1020,385 L995,410 L960,405 L945,380 Z M985,320 C970,330 970,380 985,400 M1000,330 C1010,350 1010,380 1000,400"/>
<!-- nut 90178 -->
<path d="M1075,262 L1105,245 L1135,260 L1140,285 L1110,305 L1080,295 Z M1085,275 L1130,272 M1100,262 L1110,300"/>
<path class="t" d="M1108,170 L1108,245"/>
<!-- bolt 90119-A0169 -->
<circle cx="100" cy="830" r="38"/>
<circle cx="100" cy="832" r="18"/>
<path d="M115,840 L150,852 L148,872 L118,862"/>

<!-- dashed -->
<path class="d" d="M692,115 L770,100 L770,282 L860,262"/>
<path class="d" d="M958,152 L958,208 L1110,172"/>
<path class="d" d="M510,235 L985,462 L985,522"/>
<path class="d" d="M155,880 L300,940"/>
<!-- leaders -->
<path class="t" d="M1015,632 L1145,632"/>
<path class="t" d="M1140,268 L1270,268"/>
<path class="t" d="M1022,355 L1160,355"/>
<path class="t" d="M680,60 L710,20 L755,20"/>
</g>
<g class="g1">
<!-- left valve top connector -->
<path d="M1296.3,217.6 L1298,221 L1305,224.5 M1296.3,217.6 C1298,215 1304,214.5 1308.9,215.1 L1314,215.1 L1321.5,222"/>
<path d="M1305,224.5 L1330,224 L1335,227.7 L1335,241.5 L1310,243 L1305,236 Z M1310,228 L1330,227.5 M1313,230 L1313,242 M1320,235 L1320,243"/>
<path d="M1330,224 L1342,226 L1352,226.5 C1355,228 1355,231 1352,232 L1341,231"/>
<!-- left cylinder -->
<ellipse cx="1320" cy="240.5" rx="22.5" ry="9"/>
<ellipse cx="1319" cy="240" rx="17" ry="5.5"/>
<path d="M1297.5,242 L1298.8,276 M1343,244 L1344,277"/>
<path d="M1298.5,252 C1305,259 1336,259 1343.5,252"/>
<path d="M1299,268 C1310,276 1335,275 1344,268 M1314,271 L1340,269"/>
<path d="M1299,277 C1310,284 1335,283 1344,276"/>
<path d="M1317,278 L1318,292 M1322,279 L1323,291 M1330,278 L1331,290 M1336,277 L1336,289"/>
<!-- left elbow pipe -->
<path d="M1281,253 C1283,248 1288,245 1295,244 M1281,253 L1281,270 C1283,275 1290,276 1297,276 M1286,256 C1287,252 1290,250 1296,250 M1286,256 L1287,268 C1290,271 1294,271 1297,270"/>
<path d="M1292.6,283 L1296.3,290.5 L1309,293 L1322,291"/>
<!-- right small valve box -->
<path d="M1354,252.8 L1368,249 L1385.5,254 L1385.5,262 L1365,266 L1355.4,264 Z M1355.4,253 L1365,257 L1385.5,254 M1365,257 L1365,266"/>
<path d="M1386.8,259 L1410,266 C1413,268 1413,273 1411,275.5 L1399.3,279.2 L1389.3,275.4 M1390,268 L1410,271 M1399,270 L1399,279"/>
<!-- right cylinder -->
<ellipse cx="1375" cy="272" rx="17.5" ry="5.5"/>
<path d="M1358,273 L1358.5,304.3 M1392.5,274 L1393,303"/>
<path d="M1358,288 C1365,294 1385,294 1393,288 M1378,294 L1390,292"/>
<path d="M1358.5,303 C1366,309 1386,309 1393,303"/>
<path d="M1370,305 L1371,316 M1378,305 L1378,316 M1384,304 L1385,314"/>
<!-- pipe between valves -->
<path d="M1350,261 C1346,262 1344,265 1345,270 L1346,300 C1347,305 1350,307 1353,306 M1354,266 C1351,267 1350,270 1350,274 L1351,298"/>
<path d="M1342,243 L1350,240 L1350,261"/>
<!-- lower block and stub -->
<path d="M1285,307.7 L1285,337.8 L1300,338.5 L1300,326.5 M1285,307.7 L1292.6,295 L1300,298 L1299,309"/>
<path d="M1287,300 L1296,302 M1289,309 L1296,310"/>
<ellipse cx="1303" cy="317.5" rx="5" ry="9"/>
<path d="M1302,308.7 L1307.7,307.7 L1341.6,300 M1305,326 L1311.5,325.3 L1342.9,317.7 M1341.6,300 C1345,304 1345,313 1342.9,317.7"/>
<!-- bracket below -->
<path d="M1305,329 L1306.4,345.4 C1308,348.5 1311,349.5 1314,349 L1322.8,346.6 L1339,339 L1355.4,340.4 M1308,330 L1333,328.5"/>
<!-- base plate -->
<path d="M1312.7,325.3 L1340.4,320.3 L1344,324 L1358,332.8 L1408,322.8 L1409.4,311.5 L1404.4,310.2 M1358,332.8 L1352,326 L1345,322"/>
<path d="M1345,300 L1352,306 L1358,305 L1380,300 L1395,298 L1404.4,310.2 M1392,303 L1405,315"/>
<path d="M1345.4,330.3 L1379.3,350.4 M1350,334 L1372,347"/>
<!-- outlet flange -->
<path d="M1379.3,331.6 L1413.2,324 L1415.7,335.3 L1419.5,363 C1418,367 1417,369 1415.7,369.2 L1408.2,369.2 L1388,363 C1383,358 1381,353 1380.5,348 Z"/>
<path d="M1383,336 L1412,330"/>
<path d="M1405,348 C1400,344 1395,348 1396,354 C1397,359 1402,361 1406,358"/>
<circle cx="1388" cy="339" r="2"/><circle cx="1412" cy="363" r="2"/>
</g>

</g>
<text x="308.5" y="64.9" font-size="26.0" textLength="70.8" lengthAdjust="spacingAndGlyphs">17621A</text><text x="321.5" y="101.5" font-size="20.2" textLength="142.8" lengthAdjust="spacingAndGlyphs">90387–07016(2)</text><text x="228.5" y="131.7" font-size="20.2" textLength="142.8" lengthAdjust="spacingAndGlyphs">90119–A0078(2)</text><text x="411.5" y="128.4" font-size="20.2" textLength="142.8" lengthAdjust="spacingAndGlyphs">90480–14021(2)</text><text x="50.3" y="214.2" font-size="20.2" textLength="112.2" lengthAdjust="spacingAndGlyphs">90467–28007</text><text x="436.5" y="228.1" font-size="26.0" textLength="59.0" lengthAdjust="spacingAndGlyphs">17343</text><text x="610.7" y="229.2" font-size="20.2" textLength="112.2" lengthAdjust="spacingAndGlyphs">91671–80614</text><text x="468.7" y="268.4" font-size="20.2" textLength="112.2" lengthAdjust="spacingAndGlyphs">90466–26002</text><text x="900.5" y="232.0" font-size="20.2" textLength="142.8" lengthAdjust="spacingAndGlyphs">90126–06026(2)</text><text x="1103.0" y="181.4" font-size="26.0" textLength="59.0" lengthAdjust="spacingAndGlyphs">17362</text><text x="1132.5" y="139.4" font-size="20.2" textLength="142.8" lengthAdjust="spacingAndGlyphs">91551–80616(2)</text><text x="1236.0" y="115.9" font-size="20.2" textLength="142.8" lengthAdjust="spacingAndGlyphs">91551–80845(2)</text><text x="1225.5" y="183.9" font-size="26.0" textLength="59.0" lengthAdjust="spacingAndGlyphs">17376</text><text x="1383.0" y="200.9" font-size="20.2" textLength="112.2" lengthAdjust="spacingAndGlyphs">91551–80870</text><text x="1445.5" y="278.1" font-size="26.0" textLength="59.0" lengthAdjust="spacingAndGlyphs">25720</text><text x="1436.7" y="331.4" font-size="26.0" textLength="59.0" lengthAdjust="spacingAndGlyphs">17376</text><text x="1483.5" y="378.1" font-size="26.0" textLength="70.8" lengthAdjust="spacingAndGlyphs">17363Q</text><text x="1218.0" y="388.9" font-size="26.0" textLength="59.0" lengthAdjust="spacingAndGlyphs">17344</text><text x="835.0" y="339.4" font-size="26.0" textLength="59.0" lengthAdjust="spacingAndGlyphs">17303</text><text x="966.2" y="277.2" font-size="20.2" textLength="112.2" lengthAdjust="spacingAndGlyphs">91671–80614</text><text x="1118.7" y="286.9" font-size="26.0" textLength="59.0" lengthAdjust="spacingAndGlyphs">17344</text><text x="613.2" y="407.7" font-size="20.2" textLength="112.2" lengthAdjust="spacingAndGlyphs">90466–26002</text><text x="599.5" y="438.1" font-size="26.0" textLength="70.8" lengthAdjust="spacingAndGlyphs">17367A</text><text x="527.5" y="490.6" font-size="26.0" textLength="59.0" lengthAdjust="spacingAndGlyphs">17342</text><text x="71.5" y="291.4" font-size="26.0" textLength="59.0" lengthAdjust="spacingAndGlyphs">17341</text><text x="207.7" y="318.1" font-size="26.0" textLength="59.0" lengthAdjust="spacingAndGlyphs">17341</text><text x="230.2" y="395.9" font-size="20.2" textLength="112.2" lengthAdjust="spacingAndGlyphs">90467–28007</text><text x="364.5" y="247.1" font-size="26.0" textLength="70.8" lengthAdjust="spacingAndGlyphs">17367A</text><text x="303.5" y="501.9" font-size="26.0" textLength="70.8" lengthAdjust="spacingAndGlyphs">17367A</text><text x="46.0" y="685.6" font-size="26.0" textLength="70.8" lengthAdjust="spacingAndGlyphs">17610C</text><text x="43.5" y="766.4" font-size="26.0" textLength="70.8" lengthAdjust="spacingAndGlyphs">17618A</text><text x="122.7" y="815.6" font-size="26.0" textLength="70.8" lengthAdjust="spacingAndGlyphs">17618B</text><text x="375.2" y="791.9" font-size="26.0" textLength="70.8" lengthAdjust="spacingAndGlyphs">17610D</text><text x="289.0" y="833.4" font-size="20.2" textLength="112.2" lengthAdjust="spacingAndGlyphs">90929–T1002</text><text x="446.5" y="685.2" font-size="20.2" textLength="112.2" lengthAdjust="spacingAndGlyphs">82711–16830</text><text x="390.2" y="989.6" font-size="26.0" textLength="70.8" lengthAdjust="spacingAndGlyphs">17314C</text><text x="419.0" y="898.7" font-size="20.2" textLength="142.8" lengthAdjust="spacingAndGlyphs">90178–A0024(2)</text><text x="391.5" y="919.4" font-size="20.2" textLength="142.8" lengthAdjust="spacingAndGlyphs">82711–16830(2)</text><text x="12.2" y="994.9" font-size="20.2" textLength="142.8" lengthAdjust="spacingAndGlyphs">90119–A0169(2)</text><text x="565.0" y="608.4" font-size="20.2" textLength="142.8" lengthAdjust="spacingAndGlyphs">82711–1E320(2)</text><text x="650.7" y="683.4" font-size="20.2" textLength="112.2" lengthAdjust="spacingAndGlyphs">90080–17245</text><text x="1394.2" y="488.7" font-size="20.2" textLength="142.8" lengthAdjust="spacingAndGlyphs">91551–80616(2)</text><text x="1394.2" y="541.9" font-size="20.2" textLength="142.8" lengthAdjust="spacingAndGlyphs">90126–06026(2)</text><text x="640.7" y="794.9" font-size="26.0" textLength="59.0" lengthAdjust="spacingAndGlyphs">17642</text><text x="370.0" y="267.8" font-size="15.5" textLength="51.5" lengthAdjust="spacingAndGlyphs" style="font-family:'Liberation Sans',sans-serif;font-weight:normal">(NO.1)</text><text x="308.5" y="521.6" font-size="15.5" textLength="51.5" lengthAdjust="spacingAndGlyphs" style="font-family:'Liberation Sans',sans-serif;font-weight:normal">(NO.1)</text><text x="606.5" y="458.7" font-size="15.5" textLength="52" lengthAdjust="spacingAndGlyphs" style="font-family:'Liberation Sans',sans-serif;font-weight:normal">(NO.2)</text><text x="1383.5" y="67.5" font-size="17.3" textLength="149" lengthAdjust="spacingAndGlyphs" style="font-family:'Liberation Sans',sans-serif;font-weight:bold">Non–reusable part</text><text x="586.3" y="1057.3" font-size="18.6" textLength="188" lengthAdjust="spacingAndGlyphs" style="font-family:'Liberation Sans',sans-serif;font-weight:normal">VEHICLE FRONT SIDE</text><text style="stroke-width:0.2" x="1500.8" y="1084.0" font-size="19" textLength="77.7" lengthAdjust="spacingAndGlyphs">176148E</text><path transform="translate(1383.70,28.30) scale(0.172)" d="M8,10H92 M22,28V95 M22,28H78V88 Q78,96 68,94 M50,10V72 M22,50H78 M4,72H96" style="fill:none;stroke:#000;stroke-width:11.0;stroke-linecap:square"/><path transform="translate(1403.40,28.30) scale(0.172)" d="M30,4 L8,45 M22,30V98 M42,12H96 M50,28H88V55H50Z M69,4V72 Q60,90 40,98 M52,68 Q75,86 97,97" style="fill:none;stroke:#000;stroke-width:11.0;stroke-linecap:square"/><path transform="translate(1423.10,28.30) scale(0.172)" d="M18,12V70 Q15,88 5,97 M18,12H85V88 Q85,97 74,95 M18,38H85 M18,62H85 M51,12V97" style="fill:none;stroke:#000;stroke-width:11.0;stroke-linecap:square"/><path transform="translate(1442.80,28.30) scale(0.172)" d="M6,12H94 M56,12 Q35,50 6,72 M50,38V98 M62,50 L90,72" style="fill:none;stroke:#000;stroke-width:11.0;stroke-linecap:square"/><path transform="translate(1462.50,28.30) scale(0.172)" d="M4,12H96 M78,12V88 Q78,97 64,95 M20,35H58V68H20Z" style="fill:none;stroke:#000;stroke-width:11.0;stroke-linecap:square"/><path transform="translate(1482.20,28.30) scale(0.172)" d="M27,4 L30,14 M6,18H56 M17,26 L22,40 M45,26 L40,40 M4,45H58 M12,58H50V92H12Z M68,8V98 M68,8H92 Q82,25 76,36 Q97,46 92,62 Q86,70 76,66" style="fill:none;stroke:#000;stroke-width:11.0;stroke-linecap:square"/><path transform="translate(1501.90,28.30) scale(0.172)" d="M28,6H72V40H28Z M6,54H44V94H6Z M56,54H94V94H56Z" style="fill:none;stroke:#000;stroke-width:11.0;stroke-linecap:square"/><path transform="translate(586.80,1021.00) scale(0.16)" d="M8,10H92 M20,24H80V66H20Z M20,45H80 M50,2V98 M4,82H96" style="fill:none;stroke:#000;stroke-width:11.9;stroke-linecap:square"/><path transform="translate(606.40,1021.00) scale(0.16)" d="M4,10H96 M15,30V98 M15,30H85V88 Q85,98 74,96 M50,10V70 M33,42V70H67V42" style="fill:none;stroke:#000;stroke-width:11.9;stroke-linecap:square"/><path transform="translate(626.00,1021.00) scale(0.16)" d="M30,2 L38,12 M70,2 L62,12 M4,18H96 M15,32V98 M15,32H48V88 Q48,97 38,95 M15,52H48 M15,70H48 M66,35V80 M86,30V88 Q86,98 74,96" style="fill:none;stroke:#000;stroke-width:11.9;stroke-linecap:square"/><path transform="translate(645.60,1021.00) scale(0.16)" d="M50,2 L50,14 M4,22H96 M40,22 Q40,70 8,97 M38,45H80 Q80,80 70,95 Q64,99 54,93" style="fill:none;stroke:#000;stroke-width:11.9;stroke-linecap:square"/>
</svg></body></html>
